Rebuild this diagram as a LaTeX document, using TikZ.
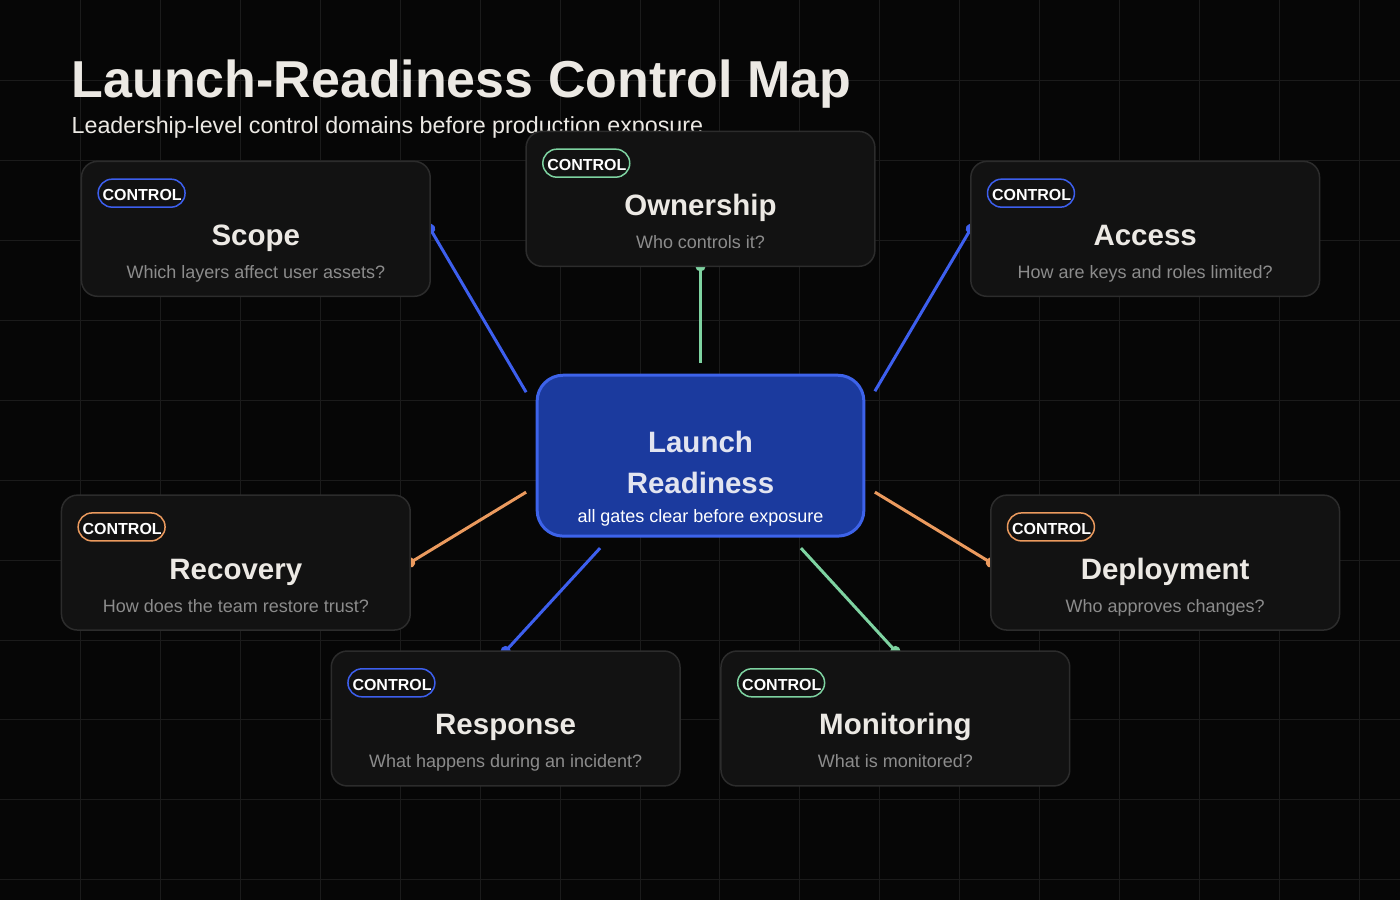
\documentclass[tikz,border=0pt]{standalone}
\usepackage{fontspec}
\setmainfont{Liberation Sans}
\usetikzlibrary{arrows.meta,calc}
\definecolor{bgc}{HTML}{060606}
\definecolor{gridc}{HTML}{1B1B1B}
\definecolor{cardf}{HTML}{121212}
\definecolor{cardb}{HTML}{2C2C2C}
\definecolor{titlec}{HTML}{ECE9E4}
\definecolor{subc}{HTML}{8C8C8C}
\definecolor{cblue}{HTML}{3D5FEE}
\definecolor{cgreen}{HTML}{7ED3A1}
\definecolor{corange}{HTML}{EB9A5E}
\definecolor{centf}{HTML}{1B3A9E}
\definecolor{centb}{HTML}{3D63EA}
\definecolor{centt}{HTML}{E2E4F0}
\pgfdeclarelayer{gridl}
\pgfdeclarelayer{conn}
\pgfsetlayers{gridl,conn,main}
\newcommand{\ctlcard}[6]{%
  \node[card] (#1) at (#2,#3) {};
  \node[badge, draw=#4] (#1-badge) at ($(#1.north west)+(60.2,31.8)$) {};
  \node[badgetxt] (#1-btxt) at ($(#1-badge.center)+(0.6,1.8)$) {CONTROL};
  \node[ctitle] (#1-title) at ($(#1.north)+(0,84)$) {#5};
  \node[csub] (#1-sub) at ($(#1.north)+(0,117)$) {#6};
}
\begin{document}
\begin{tikzpicture}[x=1pt,y=-1pt,
  card/.style={draw=cardb, line width=1.5pt, fill=cardf, rounded corners=16pt,
    minimum width=349pt, minimum height=135pt, inner sep=0pt, outer sep=0pt},
  badge/.style={line width=1.5pt, rounded corners=14pt, minimum width=87pt,
    minimum height=28pt, inner sep=0pt},
  badgetxt/.style={inner sep=0pt, text=white,
    font=\bfseries\fontsize{16}{18}\selectfont},
  ctitle/.style={anchor=base, inner sep=0pt, text=titlec,
    font=\bfseries\fontsize{29.5}{34}\selectfont},
  csub/.style={anchor=base, inner sep=0pt, text=subc,
    font=\fontsize{18}{21}\selectfont},
  link/.style={line width=3pt, -{Circle[length=10pt]}, shorten >=-5pt},
  centtxt/.style={anchor=base, inner sep=0pt, text=centt,
    font=\bfseries\fontsize{29.5}{34}\selectfont}
]
\begin{pgfonlayer}{gridl}
  \fill[bgc] (0,0) rectangle (1400,900);
  \foreach \i in {80,160,...,1360} \draw[gridc, line width=1pt] (\i,0) -- (\i,900);
  \foreach \j in {80,160,...,880} \draw[gridc, line width=1pt] (0,\j) -- (1400,\j);
\end{pgfonlayer}
\useasboundingbox (0,0) rectangle (1400,900);

\node[anchor=base west, inner sep=0pt, text=titlec,
  font=\bfseries\fontsize{52}{60}\selectfont] (title) at (71,97) {Launch-Readiness Control Map};
\node[anchor=base west, inner sep=0pt, text=titlec,
  font=\fontsize{23.3}{27}\selectfont] (subtitle) at (71,133) {Leadership-level control domains before production exposure};

\node[draw=centb, line width=3pt, fill=centf, rounded corners=26pt,
  minimum width=327pt, minimum height=161pt, inner sep=0pt, outer sep=0pt] (hub) at (700.5,455.5) {};
\node[centtxt] (hub-l1) at (700.5,452.7) {Launch};
\node[centtxt] (hub-l2) at (700.5,493.3) {Readiness};
\node[anchor=base, inner sep=0pt, text=white, font=\fontsize{18}{21}\selectfont] (hub-l3) at (700.5,522.7) {all gates clear before exposure};

\ctlcard{scope}{255.5}{228.5}{cblue}{Scope}{Which layers affect user assets?}
\ctlcard{owner}{700.5}{198.5}{cgreen}{Ownership}{Who controls it?}
\ctlcard{access}{1145.5}{228.5}{cblue}{Access}{How are keys and roles limited?}
\ctlcard{recovery}{235.5}{562.5}{corange}{Recovery}{How does the team restore trust?}
\ctlcard{deploy}{1165.5}{562.5}{corange}{Deployment}{Who approves changes?}
\ctlcard{response}{505.5}{718.5}{cblue}{Response}{What happens during an incident?}
\ctlcard{monitor}{895.5}{718.5}{cgreen}{Monitoring}{What is monitored?}

\coordinate (s-scope) at (526,392);
\coordinate (s-owner) at (700.5,363);
\coordinate (s-access) at (875,391);
\coordinate (s-recovery) at (526,492);
\coordinate (s-deploy) at (875,492);
\coordinate (s-response) at (600,548);
\coordinate (s-monitor) at (801,548);

\begin{pgfonlayer}{conn}
  \draw[link, cblue] (s-scope) -- (scope.east);
  \draw[link, cgreen] (s-owner) -- (owner.south);
  \draw[link, cblue] (s-access) -- (access.west);
  \draw[link, corange] (s-recovery) -- (recovery.east);
  \draw[link, corange] (s-deploy) -- (deploy.west);
  \draw[link, cblue] (s-response) -- (response.north);
  \draw[link, cgreen] (s-monitor) -- (monitor.north);
\end{pgfonlayer}
\end{tikzpicture}
\end{document}
